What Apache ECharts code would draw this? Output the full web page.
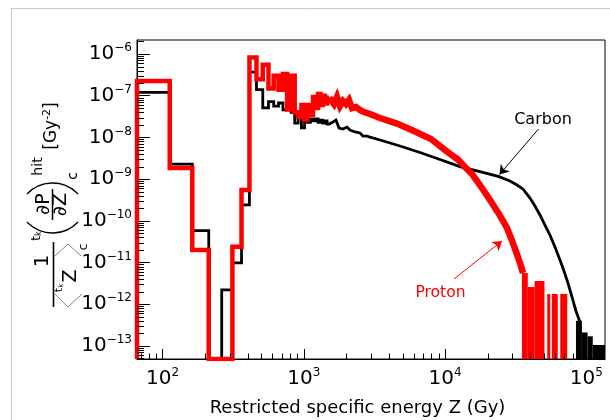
<!DOCTYPE html>
<html>
<head>
<meta charset="utf-8">
<title>Restricted specific energy spectra</title>
<script src="https://cdn.jsdelivr.net/npm/echarts@6/dist/echarts.min.js"></script>
<style>
  html, body { margin: 0; padding: 0; background: #fff; }
  #main { width: 610px; height: 420px; }
</style>
</head>
<body>
<div id="main"></div>
<script>
const FONT = 'DejaVu Sans'

// axis ranges: Z in Gy, spectrum in Gy^-2
const X_MIN = 66
const X_MAX = 135500
const Y_MIN = 4.85e-14
const Y_MAX = 2.17e-6

// low Z part: 50 Gy bins, one value per bin (0 = empty bin)
const binEdges = [66, 112.5, 162.5, 212.5, 262.5, 312.5, 362.5, 412.5, 462.5, 512.5,
  562.5, 612.5, 662.5, 712.5, 762.5, 812.5, 862.5, 912.5, 962.5, 1012.5,
  1062.5, 1112.5, 1162.5, 1212.5, 1262.5, 1312.5, 1362.5, 1412.5, 1462.5, 1512.5]
const carbonBins = [1.2e-7, 2.3e-9, 5.8e-11, 0, 2.2e-12, 9.8e-12, 2.4e-10, 3.7e-7, 1.4e-7,
  5.1e-8, 7.2e-8, 5.6e-8, 6.7e-8, 4.6e-8, 5.1e-8, 4.0e-8, 2.2e-8, 3.2e-8, 1.7e-8,
  2.6e-8, 2.3e-8, 2.8e-8, 2.5e-8, 2.8e-8, 2.3e-8, 2.6e-8, 2.2e-8, 2.5e-8, 2.1e-8]
const protonBins = [2.25e-7, 1.85e-9, 2.0e-11, 0, 0, 2.4e-11, 5.5e-10, 8.3e-7, 2.5e-7,
  5.5e-7, 1.5e-7, 3.0e-7, 1.4e-7, 3.3e-7, 4.7e-8, 3.0e-7, 4.0e-8, 3.1e-8, 6.0e-8,
  2.7e-8, 6.0e-8, 3.5e-8, 9.3e-8, 5.1e-8, 1.1e-7, 6.0e-8, 1.0e-7, 6.5e-8, 9.0e-8]

// higher Z: bins get so narrow on the log scale that the histograms read as curves
const carbonCurve = [[1609, 2.34e-8], [1690, 2.61e-8], [1775, 1.68e-8], [1894, 1.59e-8],
  [2021, 1.77e-8], [2123, 1.50e-8], [2303, 1.35e-8], [2499, 1.28e-8], [2624, 1.08e-8],
  [2801, 1.08e-8], [2941, 1.02e-8], [3462, 8.67e-9], [4796, 6.22e-9], [6643, 4.35e-9],
  [9204, 2.95e-9], [12750, 2.0e-9], [17660, 1.52e-9], [24070, 1.15e-9], [28800, 9.0e-10],
  [32270, 7.22e-10], [35600, 5.79e-10], [39890, 3.52e-10], [43280, 2.26e-10],
  [46950, 1.38e-10], [50930, 7.93e-11], [55250, 4.57e-11], [59960, 2.35e-11],
  [65050, 1.15e-11], [69420, 6.25e-12], [74100, 3.22e-12], [79100, 1.49e-12],
  [84400, 6.87e-13], [90100, 3.74e-13]]
const protonCurve = [[1557, 7.88e-8], [1636, 6.32e-8], [1718, 9.31e-8], [1804, 5.66e-8],
  [1894, 7.46e-8], [1989, 6.32e-8], [2089, 7.88e-8], [2194, 5.07e-8], [2342, 5.36e-8],
  [2499, 4.54e-8], [2667, 4.06e-8], [2941, 3.64e-8], [3462, 2.92e-8], [4566, 2.15e-8],
  [6026, 1.42e-8], [7950, 9.15e-9], [10490, 4.4e-9], [12340, 2.95e-9], [13610, 2.06e-9],
  [15500, 1.33e-9], [18250, 6.12e-10], [20790, 3.15e-10], [24070, 1.46e-10],
  [27430, 6.72e-11], [30240, 2.93e-11], [32810, 1.35e-11], [34450, 8.24e-12],
  [35600, 5.6e-12]]

// sparse tails: filled bins alternate with empty ones -> [Z from, Z to, top]
const carbonTail = [[84400, 93000, 4.0e-13], [93000, 102000, 2.1e-13],
  [102000, 111000, 1.7e-13], [111000, 140000, 1.05e-13]]
const protonTail = [[35000, 38500, 5.6e-12], [38500, 43000, 2.6e-12], [43000, 50500, 3.6e-12],
  [52890, 55530, 1.76e-12], [56910, 62740, 1.76e-12], [65350, 73250, 1.76e-12]]

// annotation arrows [from, to] in data coords
const carbonArrow = [[45810, 1.59e-8], [24270, 1.29e-9]]
const protonArrow = [[11560, 4.02e-12], [25270, 3.28e-11]]

const minorSteps = [2, 3, 4, 5, 6, 7, 8, 9]

/* step outline of a histogram, empty bins sit on the axis floor */
function stepPoints(edges, values) {
  const pts = [[edges[0], Y_MIN]]
  values.forEach((v, i) => {
    const y = v > 0 ? v : Y_MIN
    pts.push([edges[i], y], [edges[i + 1], y])
  })
  return pts
}

function minorValues(lo, hi) {
  const out = []
  for (let e = Math.floor(Math.log10(lo)); e <= Math.ceil(Math.log10(hi)); e++) {
    minorSteps.forEach(m => {
      const v = m * Math.pow(10, e)
      if (v > lo && v < hi) out.push(v)
    })
  }
  return out
}

function powLabel(value) {
  const e = Math.log10(value)
  const r = Math.round(e)
  if (Math.abs(e - r) > 1e-6) return ''
  return '{b|10}{s|' + (r < 0 ? '\u2212' + -r : r) + '}'
}

const labelRich = {
  b: { fontSize: 20, fontFamily: FONT, color: '#000', lineHeight: 24 },
  s: { fontSize: 12, fontFamily: FONT, color: '#000', lineHeight: 12, verticalAlign: 'top' }
}

function tickSeries(values, dir, len) {
  return {
    type: 'custom',
    silent: true,
    clip: false,
    z: 5,
    data: values.map(v => (dir === 'x' ? [v, Y_MIN] : [X_MIN, v])),
    renderItem: (params, api) => {
      const p = api.coord([api.value(0), api.value(1)])
      const shape = dir === 'x'
        ? { x1: Math.round(p[0]) + 0.5, y1: p[1], x2: Math.round(p[0]) + 0.5, y2: p[1] - len }
        : { x1: p[0], y1: Math.round(p[1]) + 0.5, x2: p[0] + len, y2: Math.round(p[1]) + 0.5 }
      return { type: 'line', shape, style: { stroke: '#000', lineWidth: 1 } }
    }
  }
}

function tailSeries(name, rows, color) {
  return {
    name,
    type: 'custom',
    silent: true,
    clip: true,
    z: 3,
    data: rows,
    encode: { x: [0, 1], y: 2 },
    renderItem: (params, api) => {
      const a = api.coord([api.value(0), api.value(2)])
      const b = api.coord([api.value(1), Y_MIN])
      return {
        type: 'rect',
        shape: { x: a[0], y: a[1], width: b[0] - a[0], height: b[1] - a[1] },
        style: { fill: color }
      }
    }
  }
}

function arrowMark(coords, color) {
  return {
    silent: true,
    symbol: ['none', 'arrow'],
    symbolSize: 9,
    label: { show: false },
    lineStyle: { color, width: 1, type: 'solid' },
    emphasis: { disabled: true },
    data: [[{ coord: coords[0] }, { coord: coords[1] }]]
  }
}

function rotText(x, y, text, size, extra) {
  return {
    type: 'text',
    x,
    y,
    rotation: Math.PI / 2,
    style: Object.assign({
      text,
      fontSize: size,
      fontFamily: FONT,
      fill: '#000',
      align: 'center',
      verticalAlign: 'middle'
    }, extra || {})
  }
}

function vline(x, y1, y2, color, w) {
  return { type: 'line', shape: { x1: x, y1, x2: x, y2 }, style: { stroke: color, lineWidth: w } }
}

const carbonStep = stepPoints(binEdges, carbonBins)
const protonStep = stepPoints(binEdges, protonBins)
const lastEdge = binEdges[binEdges.length - 1]

const option = {
  animation: false,
  backgroundColor: '#fff',
  grid: {
    left: 137, top: 40, width: 468, height: 319,
    show: true, borderColor: '#000', borderWidth: 1, backgroundColor: 'transparent'
  },
  xAxis: {
    type: 'log',
    min: X_MIN,
    max: X_MAX,
    splitLine: { show: false },
    axisLine: { lineStyle: { color: '#000', width: 1 } },
    axisTick: { inside: true, length: 10, lineStyle: { color: '#000' } },
    axisLabel: {
      margin: 8,
      formatter: powLabel,
      showMinLabel: false,
      showMaxLabel: false,
      rich: labelRich
    }
  },
  yAxis: {
    type: 'log',
    min: Y_MIN,
    max: Y_MAX,
    splitLine: { show: false },
    axisLine: { lineStyle: { color: '#000', width: 1 } },
    axisTick: { inside: true, length: 13, lineStyle: { color: '#000' } },
    axisLabel: {
      margin: 5,
      formatter: powLabel,
      showMinLabel: false,
      showMaxLabel: false,
      rich: labelRich
    }
  },
  series: [
    tickSeries(minorValues(X_MIN, X_MAX), 'x', 5.5),
    tickSeries(minorValues(Y_MIN, Y_MAX), 'y', 7),
    tailSeries('Carbon tail', carbonTail, '#000'),
    {
      name: 'Carbon',
      type: 'line',
      data: carbonStep.concat(carbonCurve),
      showSymbol: false,
      silent: true,
      z: 3,
      lineStyle: { color: '#000', width: 2.8, join: 'miter' },
      markLine: arrowMark(carbonArrow, '#000')
    },
    tailSeries('Proton tail', protonTail, '#ff0000'),
    {
      name: 'Proton',
      type: 'line',
      data: protonStep,
      showSymbol: false,
      silent: true,
      z: 4,
      lineStyle: { color: '#ff0000', width: 4.5, join: 'miter' }
    },
    {
      name: 'Proton curve',
      type: 'line',
      data: [[lastEdge, protonBins[protonBins.length - 1]]].concat(protonCurve),
      showSymbol: false,
      silent: true,
      z: 4,
      lineStyle: { color: '#ff0000', width: 6.5, join: 'miter' },
      markLine: arrowMark(protonArrow, '#ff0000')
    }
  ],
  graphic: [
    // outer frame of the figure
    vline(11.5, 8, 420, '#c8c8c8', 1),
    { type: 'line', shape: { x1: 11, y1: 8.5, x2: 610, y2: 8.5 }, style: { stroke: '#c8c8c8', lineWidth: 1 } },
    // x title
    {
      type: 'text', x: 357.5, y: 408,
      style: { text: 'Restricted specific energy Z (Gy)', fontSize: 18, fontFamily: FONT, fill: '#000', align: 'center', verticalAlign: 'middle' }
    },
    // series labels
    {
      type: 'text', x: 543, y: 119.5,
      style: { text: 'Carbon', fontSize: 16, fontFamily: FONT, fill: '#000', align: 'center', verticalAlign: 'middle' }
    },
    {
      type: 'text', x: 440.5, y: 292.5,
      style: { text: 'Proton', fontSize: 15.5, fontFamily: FONT, fill: '#ff0000', align: 'center', verticalAlign: 'middle' }
    },
    // y title: 1/<tkZ>c  tk(dP/dZ)^hit_c  [Gy^-2]
    rotText(52, 126, '{a|[Gy}{s|-2}{a|]}', 17, {
      rich: {
        a: { fontSize: 17, fontFamily: FONT, lineHeight: 21 },
        s: { fontSize: 11, fontFamily: FONT, lineHeight: 11, verticalAlign: 'top' }
      }
    }),
    rotText(38, 166.5, 'hit', 14),
    rotText(73, 176, 'c', 14),
    { type: 'arc', shape: { cx: 52.5, cy: 218, r: 35, startAngle: -Math.PI / 2 - 0.817, endAngle: -Math.PI / 2 + 0.817 }, style: { stroke: '#000', lineWidth: 1.3, fill: 'none' } },
    { type: 'arc', shape: { cx: 52.5, cy: 198, r: 35, startAngle: Math.PI / 2 - 0.817, endAngle: Math.PI / 2 + 0.817 }, style: { stroke: '#000', lineWidth: 1.3, fill: 'none' } },
    rotText(44, 204, '\u2202P', 19),
    rotText(61.5, 204.5, '\u2202Z', 19),
    vline(52.5, 189, 220, '#000', 1.5),
    rotText(37, 236, '{t|t}{k|k}', 12, {
      rich: {
        t: { fontSize: 12, fontFamily: FONT },
        k: { fontSize: 8, fontFamily: FONT, verticalAlign: 'bottom' }
      }
    }),
    rotText(42.5, 261, '1', 20),
    vline(53.5, 242, 307, '#000', 1.6),
    { type: 'polyline', shape: { points: [[55, 256], [68, 244], [81, 256]] }, style: { stroke: '#888', lineWidth: 1, fill: 'none' } },
    { type: 'polyline', shape: { points: [[55, 294], [68, 307], [82, 294]] }, style: { stroke: '#888', lineWidth: 1, fill: 'none' } },
    rotText(71, 276, 'Z', 19),
    rotText(59, 288, '{t|t}{k|k}', 11, {
      rich: {
        t: { fontSize: 11, fontFamily: FONT },
        k: { fontSize: 7, fontFamily: FONT, verticalAlign: 'bottom' }
      }
    }),
    rotText(84, 247, 'c', 13)
  ]
}

const chart = echarts.init(document.getElementById('main'), null, { renderer: 'canvas' })
chart.setOption(option)
</script>
</body>
</html>
